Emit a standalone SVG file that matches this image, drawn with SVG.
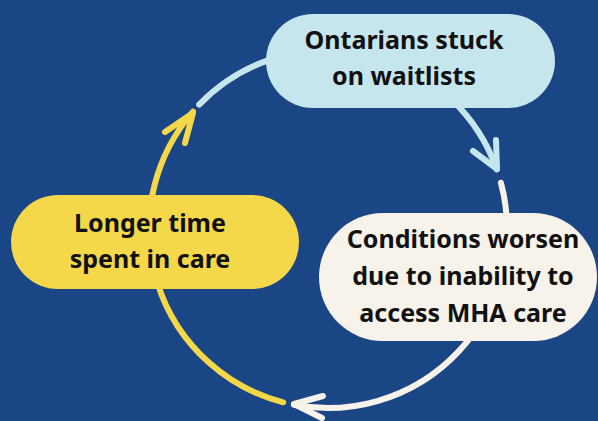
<svg xmlns="http://www.w3.org/2000/svg" width="598" height="421" viewBox="0 0 598 421">
<style>
.bg{fill:#1b4686}
.lbl{font-family:"Noto Sans","Liberation Sans",sans-serif;font-weight:700;font-size:25px;fill:#111;text-anchor:middle}
.ln{fill:none;stroke-width:6;stroke-linecap:round;stroke-linejoin:round}
.blue{stroke:#c6e6ee}
.cream{stroke:#f7f2ea}
.yellow{stroke:#f5d84a}
</style>
<rect class="bg" x="0" y="0" width="598" height="421"/>
<g id="connectors">
<path class="ln blue" d="M199.2,104.6 A179,179 0 0 1 496.8,169.5"/>
<path class="ln blue" d="M473,151 L497,169 L496,140"/>
<path class="ln cream" d="M500.9,182.7 A179,179 0 0 1 293.8,404.7"/>
<path class="ln cream" d="M323,396 L294,404 L322,418"/>
<path class="ln yellow" d="M283.2,402.3 A179,179 0 0 1 193,111.6"/>
<path class="ln yellow" d="M165,132 L193,113 L185,143"/>
</g>
<g id="node-waitlists">
<rect x="266" y="14" width="289" height="94" rx="47" fill="#c6e6ee"/>
<text class="lbl" x="404" y="49">Ontarians stuck</text>
<text class="lbl" x="404" y="85">on waitlists</text>
</g>
<g id="node-conditions">
<rect x="319" y="213" width="278" height="128" rx="64" fill="#f7f2ea"/>
<text class="lbl" x="463" y="248">Conditions worsen</text>
<text class="lbl" x="463" y="285">due to inability to</text>
<text class="lbl" x="463" y="322">access MHA care</text>
</g>
<g id="node-longer">
<rect x="11" y="195" width="288" height="94" rx="47" fill="#f5d84a"/>
<text class="lbl" x="150" y="232">Longer time</text>
<text class="lbl" x="150" y="268">spent in care</text>
</g>
</svg>
